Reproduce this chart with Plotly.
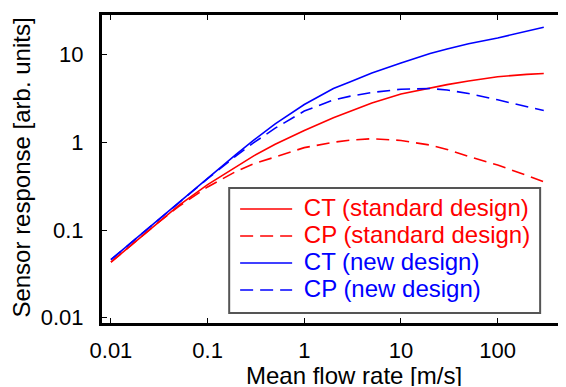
import plotly.graph_objects as go

flow = [0.01, 0.02, 0.03, 0.05, 0.1, 0.2, 0.3, 0.5, 1, 2, 3, 5, 10, 20, 30, 50, 100, 200, 300]

ct_standard = [0.043, 0.082, 0.119, 0.19, 0.33, 0.53, 0.70, 0.95, 1.36, 1.9, 2.25, 2.8, 3.55, 4.2, 4.55, 5.0, 5.6, 5.95, 6.1]
cp_standard = [0.043, 0.082, 0.119, 0.185, 0.31, 0.47, 0.57, 0.68, 0.87, 1.0, 1.06, 1.1, 1.05, 0.93, 0.83, 0.69, 0.55, 0.42, 0.355]
ct_new = [0.046, 0.088, 0.127, 0.205, 0.39, 0.74, 1.06, 1.62, 2.7, 4.1, 4.9, 6.17, 8.0, 10.3, 11.6, 13.3, 15.5, 18.5, 20.5]
cp_new = [0.046, 0.088, 0.127, 0.203, 0.385, 0.71, 0.99, 1.45, 2.27, 3.04, 3.36, 3.7, 4.03, 4.1, 3.95, 3.6, 3.05, 2.55, 2.3]

x_ticks = [0.01, 0.1, 1, 10, 100]
x_ticktext = ["0.01", "0.1", "1", "10", "100"]
y_ticks = [0.01, 0.1, 1, 10]
y_ticktext = ["0.01", "0.1", "1", "10"]

RED = "#ff0000"
BLUE = "#0000ff"
DASH = "13px,7px"
FONT = "Liberation Sans, Arial, sans-serif"

fig = go.Figure()
series = [
    ("CT (standard design)", ct_standard, RED, "solid"),
    ("CP (standard design)", cp_standard, RED, DASH),
    ("CT (new design)", ct_new, BLUE, "solid"),
    ("CP (new design)", cp_new, BLUE, DASH),
]
for name, vals, col, dash in series:
    fig.add_trace(go.Scatter(
        x=flow, y=vals, mode="lines",
        name=f'<span style="font-size:24px;color:{col}">\u00a0{name}</span>',
        line=dict(color=col, width=1.6, dash=dash),
    ))

axis_common = dict(
    type="log", showgrid=False, zeroline=False,
    showline=True, linecolor="black", linewidth=3, mirror="ticks",
    ticks="inside", ticklen=5, tickwidth=1, tickcolor="black",
    tickfont=dict(family=FONT, size=22, color="black"),
)

fig.update_layout(
    width=558, height=379,
    margin=dict(l=94, r=0, t=7, b=64),
    paper_bgcolor="white", plot_bgcolor="white",
    showlegend=True,
    legend=dict(
        x=0.2888, y=0.430, xanchor="left", yanchor="top",
        font=dict(family=FONT, size=18.46, color="black"),
        bgcolor="rgba(0,0,0,0)", borderwidth=0,
        itemwidth=52,
    ),
    xaxis=dict(range=[-2.0925, 2.676], tickvals=x_ticks, ticktext=x_ticktext,
               ticklabelstandoff=6, **axis_common),
    yaxis=dict(range=[-2.060, 1.4515], tickvals=y_ticks, ticktext=y_ticktext,
               ticklabelstandoff=11, **axis_common),
    shapes=[
        dict(type="rect", xref="paper", yref="paper",
             x0=0.2759, x1=0.9504, y0=0.0325, y1=0.4383,
             line=dict(color="#555555", width=2), fillcolor="white", layer="above"),
    ],
    annotations=[
        dict(text="Mean flow rate [m/s]", xref="paper", yref="paper",
             x=0.546, y=-0.168, xanchor="center", yanchor="middle",
             height=22, valign="middle",
             showarrow=False, font=dict(family=FONT, size=24, color="black")),
        dict(text="Sensor response [arb. units]", xref="paper", yref="paper",
             x=-0.1746, y=0.503, xanchor="center", yanchor="middle", textangle=-90,
             showarrow=False, font=dict(family=FONT, size=24, color="black")),
    ],
)

fig.write_html("out.html")
